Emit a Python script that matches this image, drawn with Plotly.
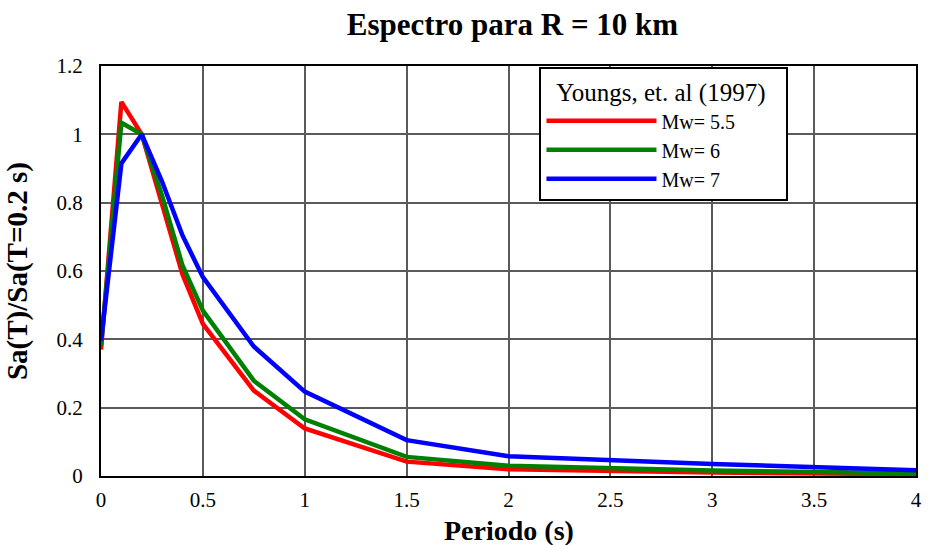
import plotly.graph_objects as go

periodo = [0, 0.1, 0.2, 0.3, 0.4, 0.5, 0.75, 1.0, 1.5, 2.0, 3.0, 4.0]
mw55 = [0.37, 1.095, 1.0, 0.795, 0.59, 0.445, 0.25, 0.139, 0.042, 0.02, 0.01, 0.005]
mw6 = [0.38, 1.034, 1.0, 0.82, 0.616, 0.484, 0.279, 0.166, 0.056, 0.03, 0.016, 0.008]
mw7 = [0.396, 0.915, 1.0, 0.861, 0.704, 0.582, 0.379, 0.247, 0.105, 0.058, 0.035, 0.017]

series = [("Mw= 5.5", mw55, "#ff0000"), ("Mw= 6", mw6, "#008000"), ("Mw= 7", mw7, "#0000ff")]

FONT = "Times New Roman, Liberation Serif, serif"
fig = go.Figure()
for name, vals, col in series:
    fig.add_trace(go.Scatter(x=periodo, y=vals, mode="lines", name=name,
                             line=dict(color=col, width=4.5)))

fig.update_layout(
    width=930, height=545,
    margin=dict(l=101, r=8, t=66, b=69),
    paper_bgcolor="white", plot_bgcolor="white",
    font=dict(family=FONT, size=21, color="black"),
    title=dict(text="<b>Espectro para R = 10 km</b>", x=0.551, xanchor="center",
               y=0.955, yanchor="middle", font=dict(family=FONT, size=31)),
    showlegend=True,
    legend=dict(x=0.538, y=0.998, xanchor="left", yanchor="top",
                bgcolor="white", bordercolor="black", borderwidth=2,
                title=dict(text="\u00a0\u00a0Youngs, et. al (1997)\u00a0\u00a0\u00a0", side="top center",
                           font=dict(family=FONT, size=25)),
                font=dict(family=FONT, size=20), itemwidth=110,
                tracegroupgap=0),
    annotations=[
        dict(text="<b>Sa(T)/Sa(T=0.2 s)</b>", xref="paper", yref="paper",
             x=-0.103, y=0.5, xanchor="center", yanchor="middle",
             textangle=-90, showarrow=False, font=dict(family=FONT, size=29)),
        dict(text="<b>Periodo (s)</b>", xref="paper", yref="paper",
             x=0.5, y=-0.133, xanchor="center", yanchor="middle",
             showarrow=False, font=dict(family=FONT, size=28)),
    ],
)
fig.update_xaxes(range=[0, 4], tickvals=[0, 0.5, 1, 1.5, 2, 2.5, 3, 3.5, 4],
                 ticktext=["0", "0.5", "1", "1.5", "2", "2.5", "3", "3.5", "4"],
                 showgrid=True, gridcolor="#5a5a5a", gridwidth=1.5,
                 showline=True, linecolor="black", linewidth=2, mirror=True,
                 zeroline=False, ticks="", ticklabelstandoff=4)
fig.update_yaxes(range=[0, 1.2], tickvals=[0, 0.2, 0.4, 0.6, 0.8, 1.0, 1.2],
                 ticktext=["0", "0.2", "0.4", "0.6", "0.8", "1", "1.2"],
                 showgrid=True, gridcolor="#5a5a5a", gridwidth=1.5,
                 showline=True, linecolor="black", linewidth=2, mirror=True,
                 zeroline=False, ticks="", ticklabelstandoff=12)

fig.write_html("out.html")
